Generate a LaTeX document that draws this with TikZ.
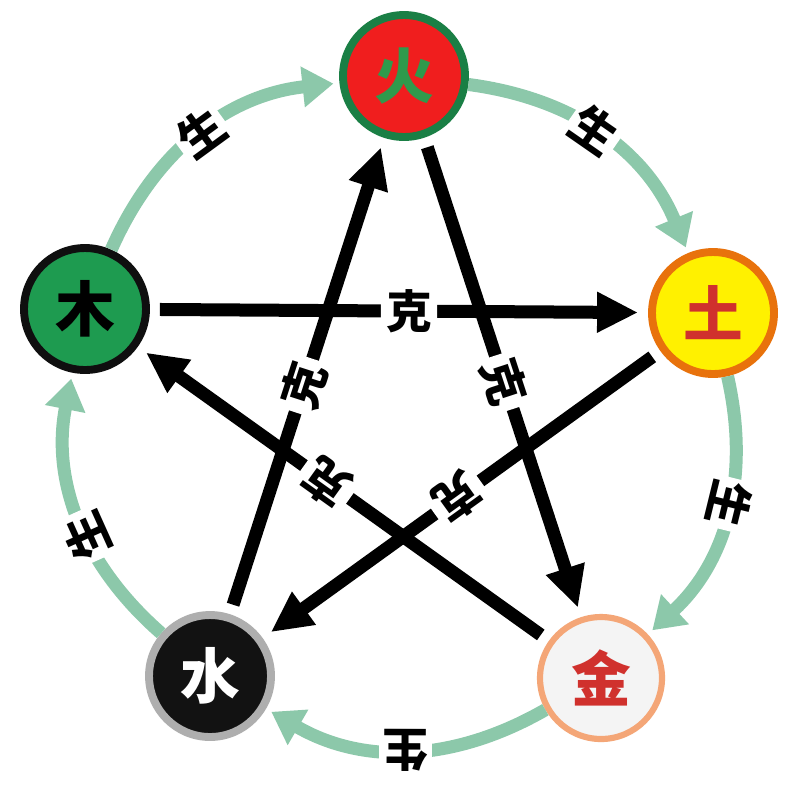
\documentclass[tikz,border=0pt]{standalone}
\usepackage{fontspec}
\newfontfamily\cjk{Noto Sans CJK SC}
\usetikzlibrary{arrows.meta}

\definecolor{shenggreen}{HTML}{8CC8AA}
\definecolor{huored}{HTML}{F01E1E}
\definecolor{huorim}{HTML}{1A7F45}
\definecolor{huotext}{HTML}{2F9A4C}
\definecolor{tuyellow}{HTML}{FFF100}
\definecolor{turim}{HTML}{E8720C}
\definecolor{redtext}{HTML}{D0312D}
\definecolor{jinfill}{HTML}{F4F4F4}
\definecolor{jinrim}{HTML}{F4A677}
\definecolor{shuirim}{HTML}{AEAEAE}
\definecolor{mugreen}{HTML}{1E9B50}

\begin{document}
\begin{tikzpicture}[x=0.02cm, y=-0.02cm,
    element/.style={circle, minimum size=2.44cm, inner sep=0pt, line width=4.5pt,
        font=\cjk\bfseries\fontsize{34}{34}\selectfont},
    sheng/.style={draw=shenggreen, line width=7.4pt,
        -{Triangle[length=0.62cm, width=0.78cm]}, shorten >=0.12cm},
    ke/.style={draw=black, line width=7.4pt,
        -{Triangle[length=0.82cm, width=0.76cm]}, shorten <=0.2cm, shorten >=0.2cm},
    shenglabel/.style={fill=white, sloped, allow upside down, inner sep=2pt,
        text=black, font=\cjk\bfseries\fontsize{26}{26}\selectfont},
    kelabel/.style={fill=white, sloped, allow upside down, inner sep=3pt,
        text=black, font=\cjk\bfseries\fontsize{26}{26}\selectfont}]

    \useasboundingbox[fill=white] (0,0) rectangle (800,789);

    % five elements
    \node[element, fill=huored, draw=huorim, text=huotext] (huo) at (404,76) {火};
    \node[element, fill=tuyellow, draw=turim, text=redtext] (tu) at (713,313) {土};
    \node[element, fill=jinfill, draw=jinrim, line width=3.5pt, text=redtext] (jin) at (601,678) {金};
    \node[element, fill=black!93, draw=shuirim, text=white] (shui) at (210,676) {水};
    \node[element, fill=mugreen, draw=black!94, text=black] (mu) at (85,309) {木};

    % ---------- sheng (outer ring)

    \draw[sheng] (mu) to[bend left=30] node[shenglabel, pos=0.5] {生} (huo);
    \draw[sheng] (huo) to[bend left=30] node[shenglabel, pos=0.46] {生} (tu);
    \draw[sheng] (tu) to[bend left=30] node[shenglabel, pos=0.45] {生} (jin);
    \draw[sheng] (jin) to[bend left=30] node[shenglabel, pos=0.5] {生} (shui);
    \draw[sheng] (shui) to[bend left=30] node[shenglabel, pos=0.42] {生} (mu);

    % ---------- ke (inner star)

    \draw[ke] (mu) -- node[kelabel, pos=0.52] {克} (tu);
    \draw[ke] (shui) -- node[kelabel, pos=0.48] {克} (huo);
    \draw[ke] (huo) -- node[kelabel, pos=0.51] {克} (jin);
    \draw[ke] (tu) -- node[kelabel, pos=0.51] {克} (shui);
    \draw[ke] (jin) -- node[kelabel, pos=0.54] {克} (mu);

\end{tikzpicture}
\end{document}
